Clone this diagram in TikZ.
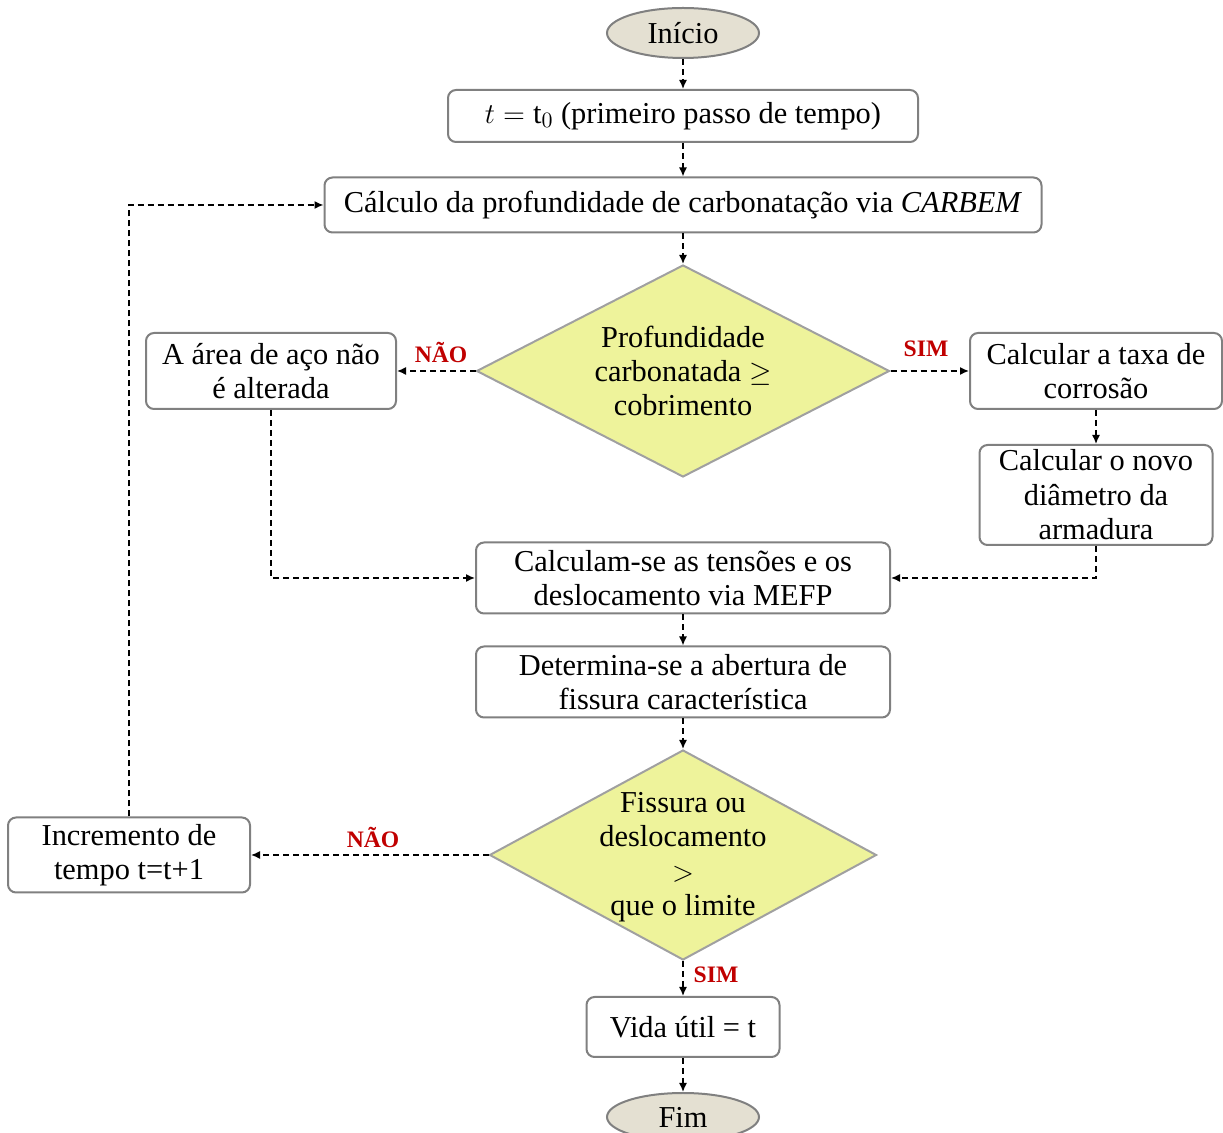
\documentclass[tikz,border=0pt]{standalone}
\usepackage{fontspec}
\setmainfont{Liberation Serif}
\usetikzlibrary{shapes.geometric,arrows.meta}
\definecolor{boxgray}{RGB}{128,128,128}
\definecolor{decfill}{RGB}{238,243,155}
\definecolor{decgray}{RGB}{160,160,160}
\definecolor{termfill}{RGB}{228,224,210}
\definecolor{labred}{RGB}{192,0,0}
\tikzset{
  procbox/.style={draw=boxgray, line width=1pt, rounded corners=4pt, fill=white,
    align=center, inner sep=0pt},
  decision/.style={diamond, draw=decgray, line width=1pt, fill=decfill, inner sep=0pt},
  terminal/.style={ellipse, draw=boxgray, line width=1pt, fill=termfill, inner sep=0pt},
  flow/.style={dashed, dash pattern=on 3pt off 2pt, line width=0.75pt,
    -{Latex[length=4.5pt,width=4pt]}},
  answer/.style={text=labred, font=\fontsize{11.8}{14}\selectfont\bfseries}
}
\begin{document}
\begin{tikzpicture}[x=0.5pt,y=-0.5pt,font=\fontsize{15.2}{17.2}\selectfont]
    \useasboundingbox (0,0) rectangle (1223,1133);
    % nodes
    \node[terminal, minimum width=76pt, minimum height=25pt] (inicio) at (683,33) {Início};
    \node[procbox, minimum width=235pt, minimum height=26pt] (tzero) at (683,116)
        {$t = \mathrm{t}_0$ (primeiro passo de tempo)};
    \node[procbox, minimum width=358.5pt, minimum height=27.5pt] (carb) at (683,205)
        {Cálculo da profundidade de carbonatação via \textit{CARBEM}};
    \node[decision, minimum width=206.5pt, minimum height=106pt] (profund) at (683,371) {};
    \node[align=center] (profundtxt) at (683,371) {Profundidade\\carbonatada $\geq$\\cobrimento};
    \node[procbox, minimum width=125pt, minimum height=38pt] (area) at (271,371)
        {A área de aço não\\é alterada};
    \node[procbox, minimum width=126pt, minimum height=38pt] (taxa) at (1096,371)
        {Calcular a taxa de\\corrosão};
    \node[procbox, minimum width=116.5pt, minimum height=50pt] (diametro) at (1096,495)
        {Calcular o novo\\diâmetro da\\armadura};
    \node[procbox, minimum width=207pt, minimum height=35.5pt] (tensoes) at (683,578)
        {Calculam-se as tensões e os\\deslocamento via MEFP};
    \node[procbox, minimum width=207pt, minimum height=35.5pt] (abertura) at (683,682)
        {Determina-se a abertura de\\fissura característica};
    \node[decision, minimum width=193.5pt, minimum height=105pt] (limite) at (683,855) {};
    \node[align=center] (limitetxt) at (683,857) {Fissura ou\\deslocamento\\$>$\\que o limite};
    \node[procbox, minimum width=121pt, minimum height=37.5pt] (incremento) at (129,855)
        {Incremento de\\tempo t=t+1};
    \node[procbox, minimum width=96.5pt, minimum height=30pt] (vida) at (683,1027)
        {Vida útil = t};
    \node[terminal, minimum width=76pt, minimum height=24pt] (fim) at (683,1117) {Fim};
    % connectors
    \draw[flow] (inicio) -- (tzero);
    \draw[flow] (tzero) -- (carb);
    \draw[flow] (carb) -- (profund.north);
    \draw[flow] (profund.west) -- (area.east);
    \draw[flow] (profund.east) -- (taxa.west);
    \draw[flow] (taxa) -- (diametro);
    \draw[flow] (area.south) |- (tensoes.west);
    \draw[flow] (diametro.south) |- (tensoes.east);
    \draw[flow] (tensoes) -- (abertura);
    \draw[flow] (abertura.south) -- (limite.north);
    \draw[flow] (limite.west) -- (incremento.east);
    \draw[flow] (limite.south) -- (vida.north);
    \draw[flow] (vida) -- (fim);
    \draw[flow] (incremento.north) |- (carb.west);
    % answers
    \node[answer] (naoa) at (441,352) {NÃO};
    \node[answer] (sima) at (926,349) {SIM};
    \node[answer] (naob) at (373,837) {NÃO};
    \node[answer] (simb) at (716,975) {SIM};
\end{tikzpicture}
\end{document}
